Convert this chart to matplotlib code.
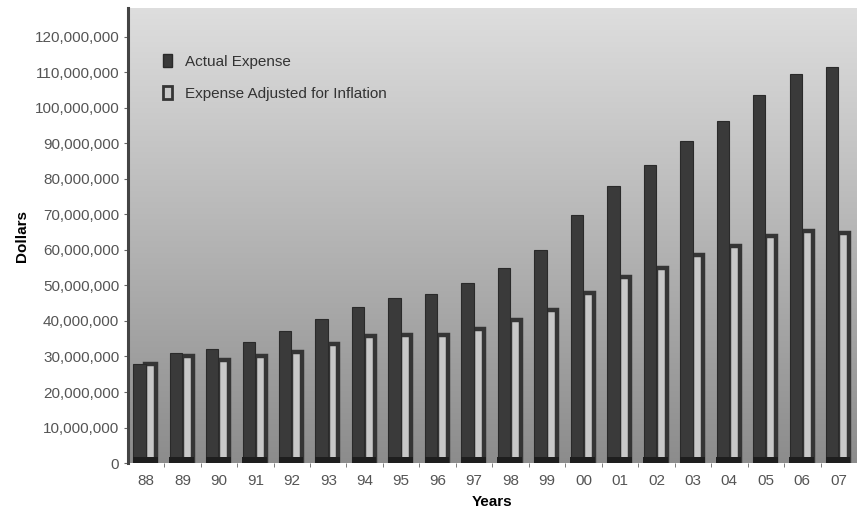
import numpy as np
import matplotlib.pyplot as plt
from matplotlib.ticker import FuncFormatter, MultipleLocator
from matplotlib.patches import Patch

plt.rcParams['font.family'] = ['Liberation Sans', 'DejaVu Sans']

anos = ['88', '89', '90', '91', '92', '93', '94', '95', '96', '97',
        '98', '99', '00', '01', '02', '03', '04', '05', '06', '07']
despesa_real = [28.0, 31.0, 32.0, 34.0, 37.3, 40.5, 44.0, 46.5, 47.5, 50.8,
                54.8, 60.0, 69.7, 78.0, 83.8, 90.5, 96.4, 103.6, 109.5, 111.6]
despesa_ajustada = [28.0, 30.0, 29.0, 30.0, 31.3, 33.5, 35.8, 36.0, 36.0, 37.8,
                    40.2, 43.0, 48.0, 52.3, 54.8, 58.5, 61.2, 64.0, 65.3, 64.8]

escala = 1e6
x = np.arange(len(anos))
real = np.array(despesa_real) * escala
ajust = np.array(despesa_ajustada) * escala

fig = plt.figure(figsize=(8.57, 5.14), dpi=100)
ax = fig.add_axes([0.149, 0.099, 0.851, 0.885])

# fundo em degrade (claro em cima, escuro embaixo)
topo = np.array([0.87, 0.87, 0.87])
base = np.array([0.55, 0.55, 0.55])
t = np.linspace(0, 1, 256).reshape(-1, 1, 1)
grad = topo * (1 - t) + base * t
ax.imshow(grad, aspect='auto', extent=[0, 1, 0, 1], transform=ax.transAxes,
          zorder=0)

cor_escura = '#3a3a3a'
ax.bar(x - 0.18, real, width=0.34, color=cor_escura, edgecolor='#2a2a2a',
       linewidth=0.8, zorder=3)
ax.bar(x + 0.13, ajust, width=0.30, color='#c8c8c8', edgecolor='#353535',
       linewidth=3.2, zorder=2)
# base escura (efeito 3d)
ax.bar(x - 0.02, np.full(len(anos), 1.6e6), width=0.68, color='#1e1e1e',
       zorder=4)

ax.set_xlim(-0.5, len(anos) - 0.5)
ax.set_ylim(0, 128e6)
ax.yaxis.set_major_locator(MultipleLocator(10e6))
ax.yaxis.set_major_formatter(FuncFormatter(lambda v, p: '{:,.0f}'.format(v)))
ax.set_xticks(x)
ax.set_xticklabels(anos)
ax.set_xticks(x[:-1] + 0.5, minor=True)

for s in ['top', 'right', 'bottom']:
    ax.spines[s].set_visible(False)
ax.spines['left'].set_linewidth(2.2)
ax.spines['left'].set_color('#444444')

ax.tick_params(axis='y', labelsize=11, labelcolor='#555555', color='#666666',
               length=3, width=0.8, pad=3)
ax.tick_params(axis='x', which='major', length=0, labelsize=11,
               labelcolor='#555555', pad=8)
ax.tick_params(axis='x', which='minor', length=3, color='#666666')

ax.set_ylabel('Dollars', fontsize=11, fontweight='bold', labelpad=4)
ax.set_xlabel('Years', fontsize=11, fontweight='bold', labelpad=5)

legenda = [Patch(facecolor=cor_escura, edgecolor='#2a2a2a', label='Actual Expense'),
           Patch(facecolor='#c8c8c8', edgecolor='#353535', linewidth=2.0,
                 label='Expense Adjusted for Inflation')]
ax.legend(handles=legenda, loc='upper left', bbox_to_anchor=(0.03, 0.93),
          frameon=False, fontsize=11, handlelength=0.6, handleheight=1.0,
          handletextpad=0.8, labelspacing=1.1, labelcolor='#333333')

fig.savefig('out.png', dpi=100)
